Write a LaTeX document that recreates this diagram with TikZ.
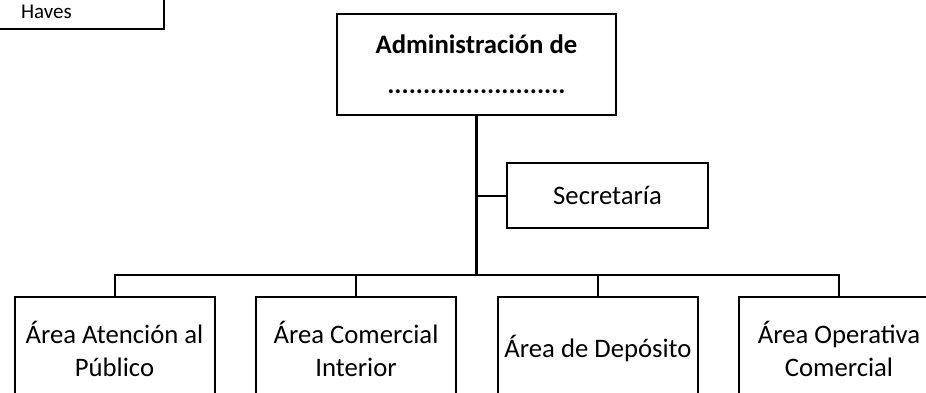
\documentclass[tikz,border=0pt]{standalone}
\usepackage{fontspec}
\setmainfont{Carlito}

\begin{document}
\begin{tikzpicture}[x=1pt,y=-1pt]
\tikzstyle{every node}+=[inner sep=0pt]
\tikzstyle{box}=[draw=black, line width=2pt, rectangle, align=center, font=\fontsize{26.7}{33}\selectfont]
\tikzstyle{area}=[box, minimum width=200pt, minimum height=104pt]
\tikzstyle{link}=[draw=black, line width=2pt]
\clip (0,0) rectangle (926,393);
% recuadro de arriba a la izquierda
\node [box, font=\fontsize{21}{25}\selectfont, align=left, inner xsep=41pt, text width=102pt, minimum height=35pt] (haves) at (72,11.5) {Haves};
% administracion y secretaria
\node [box, font=\bfseries\fontsize{26.7}{40}\selectfont, minimum width=279pt, minimum height=101pt] (admin) at (476.5,64.5) {Administración de\\.........................};
\node [box, minimum width=201pt, minimum height=65pt] (secretaria) at (607.5,195.5) {Secretaría};
\coordinate (barra) at (476.5,275);
% areas
\node [area] (atencion) at (114.5,349) {Área Atención al\\Público};
\node [area] (comercial) at (356,349) {Área Comercial\\Interior};
\node [area] (deposito) at (598,349) {Área de Depósito};
\node [area] (operativa) at (839,349) {Área Operativa\\Comercial};
% lineas
\draw [black, line width=3pt] (admin.south) -- (barra);
\draw [link] (secretaria.west) -- (secretaria.west -| admin.south);
\draw [link] (atencion.north) |- (barra) -| (operativa.north);
\draw [link] (comercial.north) -- (comercial.north |- barra);
\draw [link] (deposito.north) -- (deposito.north |- barra);
\end{tikzpicture}
\end{document}
